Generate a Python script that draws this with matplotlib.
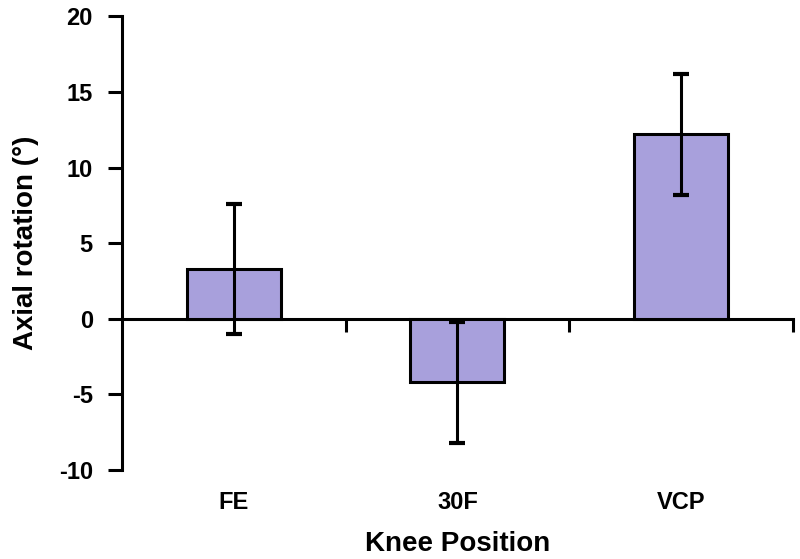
import numpy as np
import matplotlib.pyplot as plt

positions = ["FE", "30F", "VCP"]
rotation = [3.3, -4.2, 12.2]
sd = [4.3, 4.0, 4.0]

plt.rcParams['font.family'] = ['Liberation Sans', 'DejaVu Sans']
plt.rcParams['font.weight'] = 'bold'
plt.rcParams['axes.unicode_minus'] = False

fig = plt.figure(figsize=(8, 5.59), dpi=100)
ax = fig.add_axes([0.1525, 0.159, 0.8385, 0.812])

x = np.arange(len(positions))
ax.bar(x, rotation, width=0.42, color='#a8a0dc', edgecolor='black', linewidth=2.2, zorder=2)
ax.errorbar(x, rotation, yerr=sd, fmt='none', ecolor='black', elinewidth=2.2,
            capsize=6, capthick=3, zorder=3)

ax.set_xlim(-0.5, 2.5)
ax.set_ylim(-10, 20)
ax.set_yticks(np.arange(-10, 21, 5))
ax.set_xticks(x)
ax.set_xticklabels(positions, fontsize=17, fontweight='bold')
ax.tick_params(axis='y', labelsize=17, width=2.2, length=10, pad=11)
ax.tick_params(axis='x', length=0, pad=15)

for s in ['top', 'right', 'bottom']:
    ax.spines[s].set_visible(False)
ax.spines['left'].set_linewidth(2.2)

# zero line with category boundary ticks
sec = ax.secondary_xaxis(0, transform=ax.transData)
sec.set_xticks([0.5, 1.5, 2.5])
sec.set_xticklabels([])
sec.tick_params(axis='x', width=2.2, length=9, direction='out')
sec.spines['bottom'].set_linewidth(2.2)

ax.set_xlabel('Knee Position', fontsize=20, fontweight='bold', labelpad=12)
ax.set_ylabel('Axial rotation (°)', fontsize=20, fontweight='bold', labelpad=14)

fig.savefig('out.png', dpi=100)
